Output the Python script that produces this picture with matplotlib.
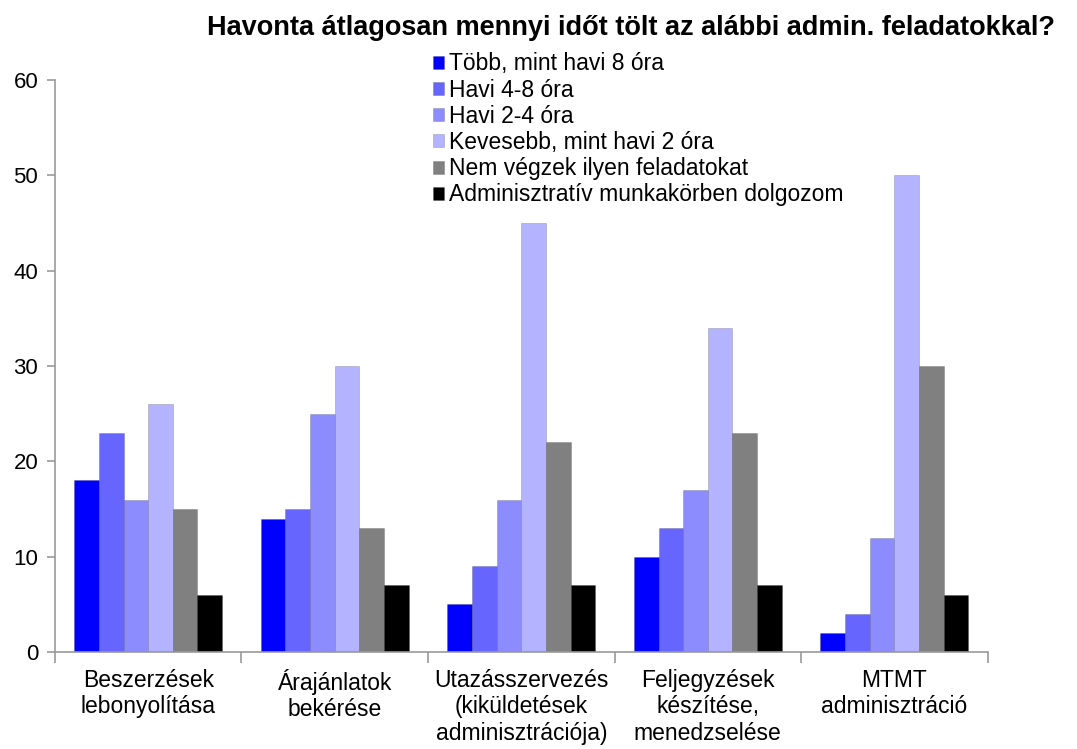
import numpy as np
import matplotlib
matplotlib.use("Agg")
from matplotlib import pyplot as plt

plt.rcParams['font.family'] = ['Liberation Sans', 'DejaVu Sans']

categories = ["Beszerzések\nlebonyolítása",
              "Árajánlatok\nbekérése",
              "Utazásszervezés\n(kiküldetések\nadminisztrációja)",
              "Feljegyzések\nkészítése,\nmenedzselése",
              "MTMT\nadminisztráció"]

series_names = ["Több, mint havi 8 óra",
                "Havi 4-8 óra",
                "Havi 2-4 óra",
                "Kevesebb, mint havi 2 óra",
                "Nem végzek ilyen feladatokat",
                "Adminisztratív munkakörben dolgozom"]

tobb_8 = [18, 14, 5, 10, 2]
havi_4_8 = [23, 15, 9, 13, 4]
havi_2_4 = [16, 25, 16, 17, 12]
kevesebb_2 = [26, 30, 45, 34, 50]
nem_vegzek = [15, 13, 22, 23, 30]
admin_munkakor = [6, 7, 7, 7, 6]

series = [tobb_8, havi_4_8, havi_2_4, kevesebb_2, nem_vegzek, admin_munkakor]
colors = ['#0000ff', '#6666ff', '#8c8cff', '#b3b3ff', '#808080', '#000000']

fig = plt.figure(figsize=(10.77, 7.49), dpi=100)
ax = fig.add_axes([0.051, 0.1295, 0.866, 0.7635])

x = np.arange(len(categories))
w = 0.132
for i, (vals, col) in enumerate(zip(series, colors)):
    offs = (i - 2.5) * w
    ax.bar(x + offs, vals, width=w, color=col, edgecolor='#00000030',
           linewidth=0.6, label=series_names[i])

ax.set_xlim(-0.5, 4.5)
ax.set_ylim(0, 60)
ax.set_yticks(range(0, 61, 10))

# group separators as x ticks, labels centered in groups
ax.set_xticks(np.arange(-0.5, 5, 1.0))
ax.set_xticklabels([])
ax.set_xticks(x, minor=True)
ax.set_xticklabels(categories, minor=True, fontsize=16.5, linespacing=1.2)
ax.tick_params(axis='x', which='minor', length=0, pad=12)
ax.tick_params(axis='x', which='major', length=8, color='#999999', width=1.2)
ax.tick_params(axis='y', length=6, color='#999999', width=1.2, labelsize=16, pad=6)

for s in ['top', 'right']:
    ax.spines[s].set_visible(False)
for s in ['left', 'bottom']:
    ax.spines[s].set_color('#999999')
    ax.spines[s].set_linewidth(1.2)

fig.text(0.586, 0.962, "Havonta átlagosan mennyi időt tölt az alábbi admin. feladatokkal?",
         ha='center', va='center', fontsize=19.5, fontweight='bold')

fig.legend(loc='upper left', bbox_to_anchor=(0.402, 0.93), frameon=False,
           fontsize=16.5, handlelength=0.5, handleheight=0.5, handletextpad=0.2,
           labelspacing=0.14, borderaxespad=0, borderpad=0)

fig.savefig("out.png", dpi=100)
